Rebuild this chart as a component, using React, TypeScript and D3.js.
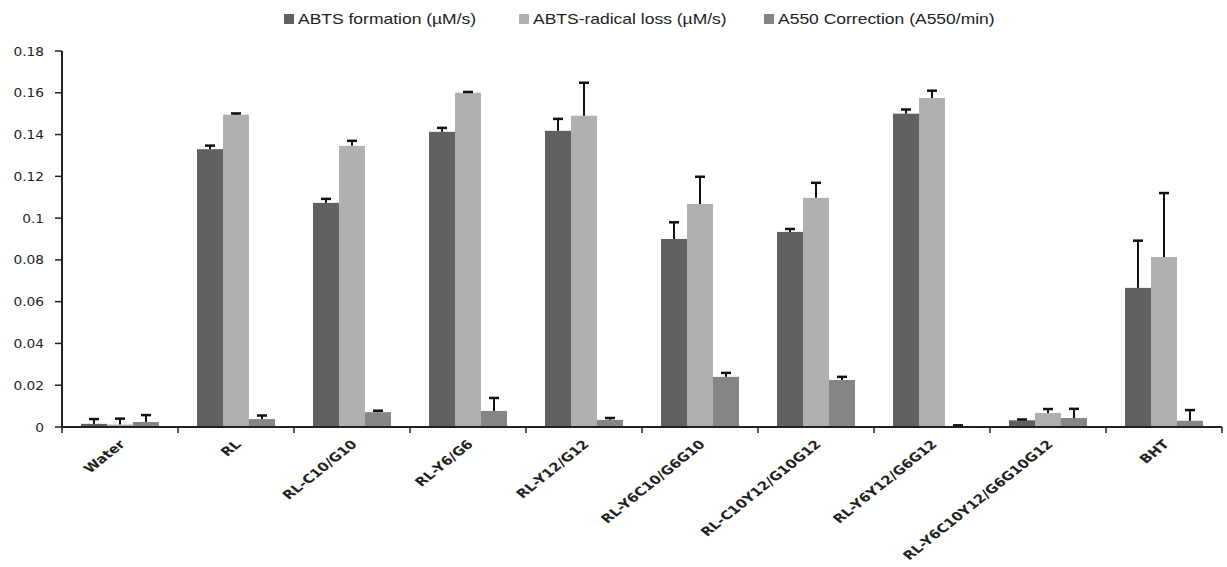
import * as d3 from "d3";

const width = 1227;
const height = 567;
const margin = { top: 51, right: 5, bottom: 140, left: 62 };
const stretch = 1.25; // the original picture is squeezed wide

const categories = [
  "Water",
  "RL",
  "RL-C10/G10",
  "RL-Y6/G6",
  "RL-Y12/G12",
  "RL-Y6C10/G6G10",
  "RL-C10Y12/G10G12",
  "RL-Y6Y12/G6G12",
  "RL-Y6C10Y12/G6G10G12",
  "BHT",
];

const seriesNames = [
  "ABTS formation (\u00b5M/s)",
  "ABTS-radical loss (\u00b5M/s)",
  "A550 Correction (A550/min)",
];
const seriesColors = ["#616161", "#b0b0b0", "#858585"];

const abtsFormation = [0.0015, 0.133, 0.1073, 0.1413, 0.1418, 0.09, 0.0934, 0.15, 0.0032, 0.0666];
const abtsFormationErr = [0.0023, 0.0017, 0.0019, 0.0019, 0.0057, 0.008, 0.0014, 0.002, 0.0004, 0.0226];
const radicalLoss = [0.0012, 0.1495, 0.1346, 0.16, 0.149, 0.1068, 0.1097, 0.1575, 0.0067, 0.0814];
const radicalLossErr = [0.0028, 0.0006, 0.0024, 0.0004, 0.0158, 0.013, 0.0072, 0.0035, 0.0019, 0.0306];
const a550 = [0.0024, 0.0038, 0.0071, 0.0077, 0.0034, 0.024, 0.0225, 0.0005, 0.0043, 0.003];
const a550Err = [0.0033, 0.0017, 0.0007, 0.0062, 0.0009, 0.0019, 0.0015, 0.0003, 0.0044, 0.0051];

const yTicks = [0, 0.02, 0.04, 0.06, 0.08, 0.1, 0.12, 0.14, 0.16, 0.18];

const values = [abtsFormation, radicalLoss, a550];
const errors = [abtsFormationErr, radicalLossErr, a550Err];

const legendX = [284, 519, 764];

const App = () => {
  const plotRight = width - margin.right;
  const plotBottom = height - margin.bottom; // y of zero

  const x0 = d3.scaleBand<string>().domain(categories).range([margin.left, plotRight]);
  const x1 = d3
    .scaleBand<number>()
    .domain([0, 1, 2])
    .range([0, x0.bandwidth()])
    .paddingOuter(0.73);
  const y = d3.scaleLinear().domain([0, 0.18]).range([plotBottom, margin.top]);

  const bars = categories.flatMap((c, i) =>
    values.map((arr, s) => ({
      key: `${c}-${s}`,
      x: (x0(c) ?? 0) + (x1(s) ?? 0),
      w: x1.bandwidth(),
      top: y(arr[i]),
      errTop: y(arr[i] + errors[s][i]),
      fill: seriesColors[s],
    }))
  );

  const boundaries = [...categories.map((c) => x0(c) ?? 0), plotRight];

  return (
    <svg width={width} height={height} style={{ display: "block", position: "absolute", left: 0, top: 0 }}>
      <rect width={width} height={height} fill="#fff" />

      {/* legend */}
      {seriesNames.map((name, s) => (
        <g key={name}>
          <rect x={legendX[s]} y={14} width={10} height={10} fill={seriesColors[s]} />
          <g transform={`translate(${legendX[s] + 14},24) scale(${stretch},1)`}>
            <text fontFamily="Liberation Sans, Arial, sans-serif" fontSize={14} fill="#222">
              {name}
            </text>
          </g>
        </g>
      ))}

      {/* bars */}
      {bars.map((b) => (
        <rect key={b.key} x={b.x} y={b.top} width={b.w} height={plotBottom - b.top} fill={b.fill} />
      ))}

      {/* error bars */}
      {bars.map((b) => {
        const cx = b.x + b.w / 2;
        return (
          <g key={`e-${b.key}`} stroke="#111">
            <line x1={cx} x2={cx} y1={b.top} y2={b.errTop} strokeWidth={2} />
            <line x1={cx - 5} x2={cx + 5} y1={b.errTop} y2={b.errTop} strokeWidth={2.5} />
          </g>
        );
      })}

      {/* y axis */}
      <line x1={margin.left} x2={margin.left} y1={margin.top} y2={plotBottom} stroke="#222" strokeWidth={2} />
      {yTicks.map((t) => (
        <g key={t}>
          <line x1={margin.left - 7} x2={margin.left} y1={y(t)} y2={y(t)} stroke="#222" strokeWidth={1.5} />
          <g transform={`translate(${margin.left - 18},${y(t) + 4.5}) scale(1.1,1)`}>
            <text textAnchor="end" fontFamily="DejaVu Sans, Verdana, sans-serif" fontSize={12.5} fill="#222">
              {d3.format("~g")(t)}
            </text>
          </g>
        </g>
      ))}

      {/* x axis */}
      <line x1={margin.left} x2={plotRight} y1={plotBottom} y2={plotBottom} stroke="#222" strokeWidth={2} />
      {boundaries.map((bx, i) => (
        <line key={i} x1={bx} x2={bx} y1={plotBottom} y2={plotBottom + 6} stroke="#222" strokeWidth={1.5} />
      ))}
      {categories.map((c) => {
        const cx = (x0(c) ?? 0) + x0.bandwidth() / 2;
        return (
          <g key={c} transform={`translate(${cx + 6},${plotBottom + 18}) scale(${stretch},1) rotate(-45)`}>
            <text
              textAnchor="end"
              fontFamily="DejaVu Sans, Verdana, sans-serif"
              fontWeight="bold"
              fontSize={12}
              fill="#222"
            >
              {c}
            </text>
          </g>
        );
      })}
    </svg>
  );
};

export default App;
